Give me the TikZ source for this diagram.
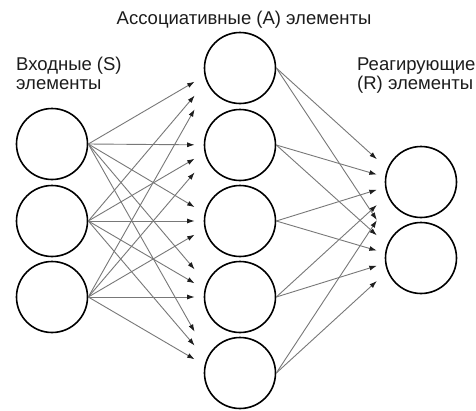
\documentclass[tikz,border=0pt]{standalone}
\usepackage{fontspec}
\setmainfont{Liberation Sans}
\usetikzlibrary{calc,arrows.meta}
\definecolor{wire}{RGB}{120,120,120}
\definecolor{tipcol}{RGB}{30,30,30}
\definecolor{ink}{RGB}{28,28,28}
\begin{document}
\begin{tikzpicture}[x=1pt,y=-1pt,
  unit/.style={circle,draw=black,line width=1.6pt,minimum size=71pt,inner sep=0pt},
  conn/.style={draw=wire,line width=0.9pt,-{Latex[length=7.5pt,width=5pt,color=tipcol]}},
  lbl/.style={text=ink,font=\fontsize{18.5}{19.5}\selectfont,inner sep=0pt}]
\useasboundingbox (0,0) rectangle (476,410);
\fill[white] (0,0) rectangle (476,410);

% input (S) units
\node[unit] (S1) at (52,144) {};
\node[unit] (S2) at (52,221) {};
\node[unit] (S3) at (52,297) {};
% associative (A) units
\node[unit] (A1) at (240,68) {};
\node[unit] (A2) at (240,145) {};
\node[unit] (A3) at (240,221) {};
\node[unit] (A4) at (240,297) {};
\node[unit] (A5) at (240,373) {};
% reacting (R) units
\node[unit] (R1) at (421,182) {};
\node[unit] (R2) at (421,258) {};

% aim points a little left of each target centre
\foreach \a in {1,...,5} \coordinate (A\a-in) at ($(A\a.center)+(-22,0)$);
\foreach \r in {1,2} \coordinate (R\r-in) at ($(R\r.center)+(-19,0)$);

% S -> A links
\foreach \s in {1,2,3}
  \foreach \a in {1,...,5}
    \draw[conn] (S\s.east) -- ($(S\s.east)!0.82!(A\a-in)$);
% A -> R links
\foreach \a in {1,...,5}
  \foreach \r in {1,2}
    \draw[conn] (A\a.east) -- ($(A\a.east)!0.8!(R\r-in)$);

% layer captions
\node[lbl,anchor=base] (capA) at (244,24) {Ассоциативные (A) элементы};
\node[lbl,anchor=base west] (capS) at (16,70)
  {\begin{tabular}[t]{@{}l@{}}Входные (S)\\элементы\end{tabular}};
\node[lbl,anchor=base west] (capR) at (357,70)
  {\begin{tabular}[t]{@{}l@{}}Реагирующие\\(R) элементы\end{tabular}};
\end{tikzpicture}
\end{document}
